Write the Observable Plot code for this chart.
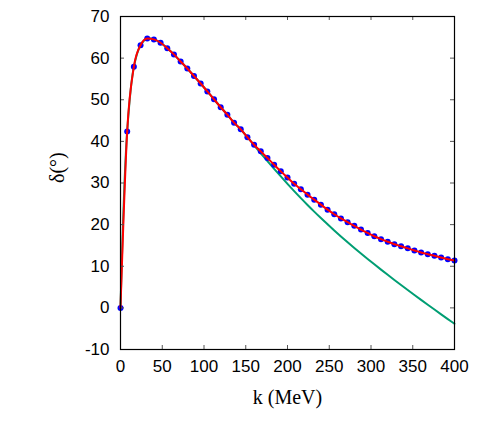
<!DOCTYPE html>
<html><head><meta charset="utf-8">
<script src="https://cdn.jsdelivr.net/npm/d3@7"></script>
<script src="https://cdn.jsdelivr.net/npm/@observablehq/plot@0.6"></script>
<style>body{margin:0;background:#fff}</style>
</head><body><div id="chart"></div>
<script>
// Momentum grid of the data points (MeV)
const kData = [0,8,16,24,32,40,48,56,64,72,80,88,96,104,112,120,128,136,144,152,160,168,176,184,192,200,208,216,224,232,240,248,256,264,272,280,288,296,304,312,320,328,336,344,352,360,368,376,384,392,400];
// Phase shift data points (degrees) - blue dots
const deltaData = [0,42.4,57.9,63.1,64.7,64.5,63.7,62.4,60.9,59.2,57.5,55.7,53.9,52.0,50.1,48.2,46.4,44.5,42.9,41.0,39.2,37.6,36.0,34.4,32.8,31.3,29.8,28.5,27.2,26.0,24.8,23.6,22.5,21.5,20.6,19.7,18.8,18.0,17.2,16.5,15.9,15.3,14.8,14.3,13.8,13.3,12.9,12.5,12.1,11.7,11.4];
// Fit curve (red)
const kFit = kData;
const deltaFit = [0,42.4,57.9,63.1,64.7,64.5,63.7,62.4,60.9,59.2,57.5,55.7,53.9,52.0,50.1,48.2,46.4,44.5,42.9,41.0,39.2,37.6,36.0,34.4,32.8,31.3,29.8,28.5,27.2,26.0,24.8,23.6,22.5,21.5,20.6,19.7,18.8,18.0,17.2,16.5,15.9,15.3,14.8,14.3,13.8,13.3,12.9,12.5,12.1,11.7,11.4];
// Approximation curve (green)
const kGreen = kData;
const deltaGreen = [0,42.4,57.9,63.1,64.7,64.5,63.7,62.4,60.9,59.2,57.5,55.7,53.9,52.0,50.1,48.2,46.4,44.5,42.9,41.0,39.05,37.13,35.24,33.39,31.58,29.80,28.06,26.37,24.73,23.13,21.58,20.07,18.60,17.17,15.77,14.40,13.06,11.75,10.46,9.19,7.94,6.71,5.50,4.30,3.11,1.93,0.76,-0.40,-1.55,-2.69,-3.82];

const xTicks = [0,50,100,150,200,250,300,350,400];
const yTicks = [-10,0,10,20,30,40,50,60,70];
const xLabel = "k (MeV)";
const yLabel = "δ(°)";

const W = 491, H = 436, mL = 120, mR = 37, mT = 16, mB = 87;
const innerW = W - mL - mR, innerH = H - mT - mB;
const tickLen = 4;

const pts = kData.map((k, i) => ({k, d: deltaData[i]}));
const fit = kFit.map((k, i) => ({k, d: deltaFit[i]}));
const green = kGreen.map((k, i) => ({k, d: deltaGreen[i]}));

const chart = Plot.plot({
  width: W, height: H,
  marginLeft: mL, marginRight: mR, marginTop: mT, marginBottom: mB,
  x: {domain: [0, 400]},
  y: {domain: [-10, 70]},
  style: {fontFamily: "Liberation Sans, Arial, sans-serif", fontSize: "17px", background: "white", color: "black"},
  marks: [
    Plot.line(green, {x: "k", y: "d", stroke: "#009e73", strokeWidth: 2, curve: "catmull-rom"}),
    Plot.dot(pts, {x: "k", y: "d", r: 3, fill: "#0000ff", stroke: "none"}),
    Plot.line(fit, {x: "k", y: "d", stroke: "#ff0000", strokeWidth: 2, curve: "monotone-x"}),
    Plot.tickX(xTicks, {x: d => d, insetTop: innerH - tickLen, stroke: "#555", strokeWidth: 1}),
    Plot.tickX(xTicks, {x: d => d, insetBottom: innerH - tickLen, stroke: "#555", strokeWidth: 1}),
    Plot.tickY(yTicks, {y: d => d, insetRight: innerW - tickLen, stroke: "#555", strokeWidth: 1}),
    Plot.tickY(yTicks, {y: d => d, insetLeft: innerW - tickLen, stroke: "#555", strokeWidth: 1}),
    Plot.axisX(xTicks, {tickSize: 0, tickPadding: 10, label: null, tickFormat: d => String(d), fontSize: 17, fill: "black"}),
    Plot.axisY(yTicks, {tickSize: 0, tickPadding: 11, label: null, tickFormat: d => String(d), fontSize: 17, fill: "black"}),
    Plot.frame({stroke: "black", strokeWidth: 1.2}),
    Plot.text([xLabel], {text: d => d, frameAnchor: "bottom", dy: 54, fontFamily: "Liberation Serif, Times New Roman, serif", fontSize: 20, fill: "black"}),
    Plot.text([yLabel], {text: d => d, frameAnchor: "left", dx: -63, rotate: -90, fontFamily: "Liberation Serif, Times New Roman, serif", fontSize: 20, fill: "black"})
  ]
});
document.getElementById("chart").appendChild(chart);
</script>
</body></html>
